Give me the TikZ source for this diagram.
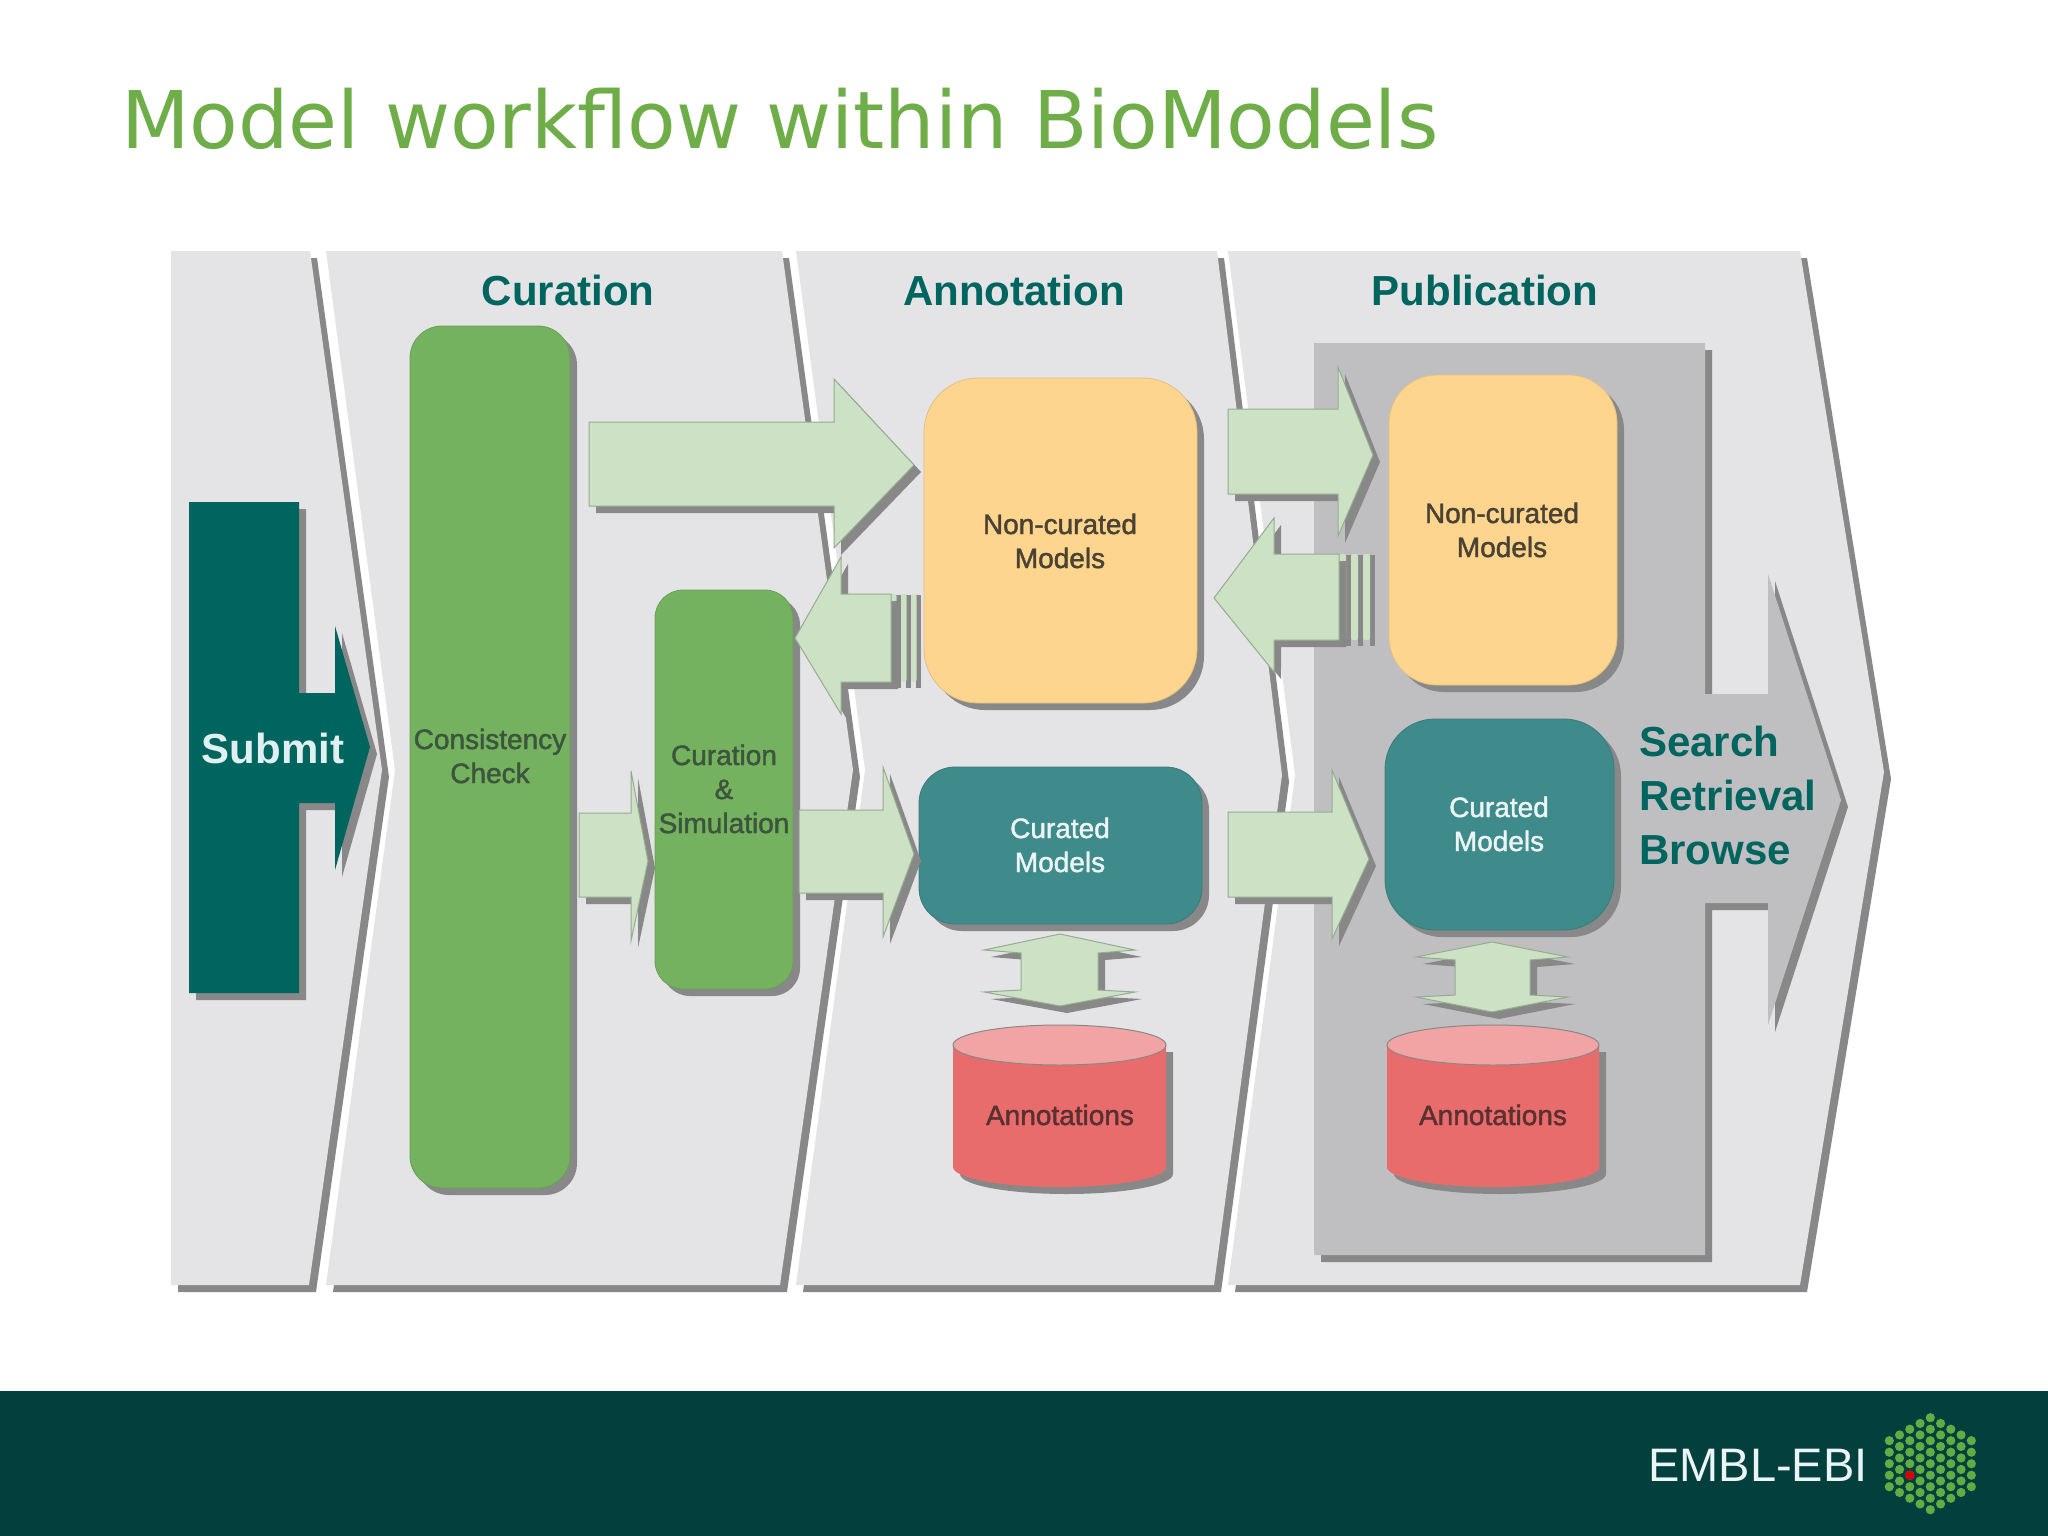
\documentclass[tikz,border=0pt]{standalone}
\usepackage{fontspec}
\setmainfont{Liberation Sans}
\newfontfamily\titlef{DejaVu Sans}
\newfontfamily\medf{Liberation Sans}[FakeBold=1.6]
\definecolor{panelc}{HTML}{E4E4E6}
\definecolor{greybox}{HTML}{BFBFC2}
\definecolor{shadowc}{HTML}{888888}
\definecolor{tealdark}{HTML}{00645F}
\definecolor{tealmid}{HTML}{3F8A8A}
\definecolor{greenbox}{HTML}{75B260}
\definecolor{arrowc}{HTML}{CDE1C4}
\definecolor{arrowl}{HTML}{94AC90}
\definecolor{orangec}{HTML}{FDD58E}
\definecolor{redc}{HTML}{E96C6C}
\definecolor{redtop}{HTML}{F2A3A3}
\definecolor{footc}{HTML}{03403D}
\definecolor{titlec}{HTML}{6EAD47}
\definecolor{dotc}{HTML}{62AD43}
\newcommand\fs[1]{\fontsize{#1}{#1}\selectfont}
\newcommand\blk[3][]{\fill[shadowc,shift={(7,7)},#1] #3; \path[#2,#1] #3;}
\newcommand\rbox[6]{\fill[shadowc,rounded corners=#5,shift={(7,7)}] (#1,#2) rectangle (#3,#4); \path[fill=#6,draw=#6!90!black,line width=0.8pt,rounded corners=#5] (#1,#2) rectangle (#3,#4);}
\newcommand\cyl[3]{% left, right, half width
  \fill[shadowc,shift={(7,7)}] (#1,1045) -- (#1,1167) arc[start angle=180,end angle=360,x radius=#3pt,y radius=20pt] -- (#2,1045) -- cycle;
  \path[fill=redc] (#1,1045) -- (#1,1167) arc[start angle=180,end angle=360,x radius=#3pt,y radius=20pt] -- (#2,1045) -- cycle;
  \path[fill=redtop,draw=shadowc,line width=1pt] ({(#1+#2)/2},1045) ellipse[x radius=#3pt,y radius=20pt];}
\tikzset{
  panel/.style={fill=panelc},
  arr/.style={fill=arrowc,draw=arrowl,line width=1pt},
  head/.style={font=\bfseries\fs{42},text=tealdark,inner sep=0pt},
  lab/.style={font=\medf\fs{28},align=center,inner sep=0pt},
}
\begin{document}
\begin{tikzpicture}[x=1pt,y=-1pt]
\useasboundingbox (0,0) rectangle (2048,1536);
\fill[white] (0,0) rectangle (2048,1536);
% footer
\fill[footc] (0,1391) rectangle (2048,1536);
\node[anchor=base west,inner sep=0pt,font=\titlef\fs{79.5},text=titlec] (title) at (121,149) {Model workflow within BioModels};
% panels
\blk{panel}{(171,251) -- (310,251) -- (382,770) -- (309,1285) -- (171,1285) -- cycle}
\blk{panel}{(326,251) -- (782,251) -- (853,770) -- (780,1285) -- (326,1285) -- (395,770) -- cycle}
\blk{panel}{(796,251) -- (1217,251) -- (1282,775) -- (1214,1285) -- (796,1285) -- (865,770) -- cycle}
\blk{panel}{(1228,251) -- (1800,251) -- (1884,772) -- (1800,1285) -- (1228,1285) -- (1295,775) -- cycle}
% publication box with arrow
\blk{fill=greybox}{(1314,343) -- (1705,343) -- (1705,694) -- (1768,694) -- (1768,574) -- (1841,800) -- (1768,1025) -- (1768,903) -- (1705,903) -- (1705,1255) -- (1314,1255) -- cycle}
% submit
\blk{fill=tealdark}{(189,502) -- (299,502) -- (299,693) -- (335,693) -- (335,626) -- (370,747) -- (335,870) -- (335,803) -- (299,803) -- (299,993) -- (189,993) -- cycle}
% curation boxes
\rbox{410}{326}{570}{1188}{32}{greenbox}
\rbox{655}{590}{793}{989}{28}{greenbox}
% orange and teal boxes
\rbox{924}{378}{1197}{703}{54}{orangec}
\rbox{919}{767}{1202}{924}{36}{tealmid}
\rbox{1389}{375}{1617}{685}{48}{orangec}
\rbox{1385}{719}{1614}{930}{50}{tealmid}
% block arrows
\blk{arr}{(589,422) -- (834,422) -- (834,379) -- (914,465) -- (834,548) -- (834,506) -- (589,506) -- cycle}
\blk{arr}{(579,813) -- (631,813) -- (631,771) -- (648,861) -- (631,941) -- (631,897) -- (579,897) -- cycle}
\blk{arr}{(799,810) -- (883,810) -- (883,767) -- (914,854) -- (883,937) -- (883,893) -- (799,893) -- cycle}
\blk{arr}{(1228,409) -- (1338,409) -- (1338,367) -- (1373,455) -- (1338,536) -- (1338,494) -- (1228,494) -- cycle}
\blk{arr}{(1228,812) -- (1332,812) -- (1332,770) -- (1369,859) -- (1332,939) -- (1332,897) -- (1228,897) -- cycle}
% left arrows with stripes
\foreach \sx in {891,901,911}{
  \fill[shadowc] (\sx+5,595) rectangle (\sx+9.5,688);
  \fill[arrowc,rounded corners=2] (\sx,594) rectangle (\sx+5.5,682);}
\blk{arr}{(891,594) -- (841,594) -- (841,557) -- (795,638) -- (841,714) -- (841,682) -- (891,682) -- cycle}
\foreach \sx in {1339,1351,1363}{
  \fill[shadowc] (\sx+6.5,555) rectangle (\sx+11.5,646);
  \fill[arrowc,rounded corners=2] (\sx,554) rectangle (\sx+7,640);}
\blk{arr}{(1339,554) -- (1274,554) -- (1274,518) -- (1214,598) -- (1274,672) -- (1274,640) -- (1339,640) -- cycle}
% double arrows
\blk{arr}{(1060,934) -- (1135,950) -- (1098,953) -- (1098,990) -- (1135,992) -- (1060,1006) -- (984,992) -- (1021,990) -- (1021,953) -- (984,950) -- cycle}
\blk{arr}{(1492,942) -- (1568,957) -- (1530,960) -- (1530,995) -- (1568,997) -- (1492,1012) -- (1416,997) -- (1455,995) -- (1455,960) -- (1416,957) -- cycle}
% cylinders
\cyl{953}{1166}{106.5}
\cyl{1387}{1599}{106}
% texts
\node[head] (tcur) at (568,290) {Curation};
\node[head] (tann) at (1014,290) {Annotation};
\node[head] (tpub) at (1485,290) {Publication};
\node[head,text=white!88!teal] (tsub) at (273,748) {Submit};
\node[lab,text={rgb,255:red,60;green,85;blue,60}] (tcc) at (490,756) {Consistency\\[6pt]Check};
\node[lab,text={rgb,255:red,60;green,85;blue,60}] (tcs) at (724,789) {Curation\\[6pt]\&\\[6pt]Simulation};
\node[lab,text={rgb,255:red,74;green,66;blue,50}] (tn1) at (1060,541) {Non-curated\\[6pt]Models};
\node[lab,text={rgb,255:red,74;green,66;blue,50}] (tn2) at (1502,530) {Non-curated\\[6pt]Models};
\node[lab,text=white!92!teal] (tc1) at (1060,845) {Curated\\[6pt]Models};
\node[lab,text=white!92!teal] (tc2) at (1499,824) {Curated\\[6pt]Models};
\node[lab,text={rgb,255:red,90;green,48;blue,48}] (ta1) at (1060,1115) {Annotations};
\node[lab,text={rgb,255:red,90;green,48;blue,48}] (ta2) at (1493,1115) {Annotations};
\node[head,anchor=base west] (ts1) at (1639,756) {Search};
\node[head,anchor=base west] (ts2) at (1639,810) {Retrieval};
\node[head,anchor=base west] (ts3) at (1639,864) {Browse};
% logo
\node[anchor=base west,inner sep=0pt,font=\fs{47},text=white!92!teal] (embl) at (1648,1481) {EMBL-EBI};
\foreach \i/\n in {-4/5,-3/6,-2/7,-1/8,0/9,1/8,2/7,3/6,4/5}{
  \foreach \k in {1,...,\n}{
    \fill[dotc] ({1930.3+\i*10.25},{1463.7+(\k-(\n+1)/2)*11.5}) circle[radius=4.6pt];}}
\fill[red!85!black] (1909.8,1475.2) circle[radius=4.6pt];
\end{tikzpicture}
\end{document}
